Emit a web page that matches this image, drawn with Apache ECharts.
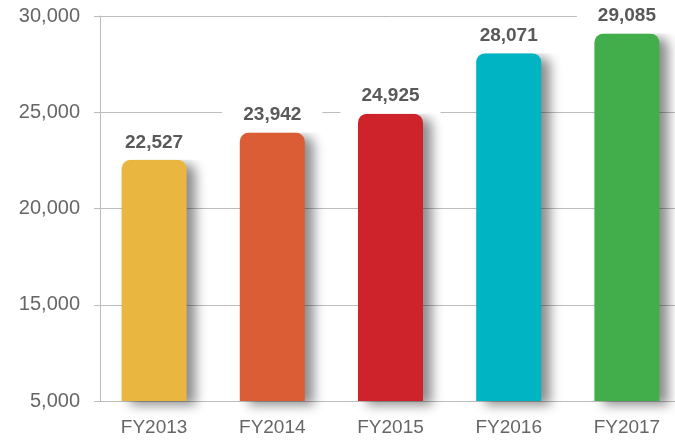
<!DOCTYPE html>
<html>
<head>
<meta charset="utf-8">
<script src="https://cdn.jsdelivr.net/npm/echarts@6/dist/echarts.min.js"></script>
<style>
html,body{margin:0;padding:0;background:#fff;overflow:hidden;width:675px;height:440px;}
#chart{width:686px;height:440px;}
</style>
</head>
<body>
<div id="chart"></div>
<script>
var categories = ["FY2013", "FY2014", "FY2015", "FY2016", "FY2017"];
var values = [22527, 23942, 24925, 28071, 29085];
var barColors = ["#E9B73F", "#DB5D36", "#CF232B", "#00B4C3", "#42AE4B"];
var yTickValues = [10000, 15000, 20000, 25000, 30000];
var yTickLabels = ["5,000", "15,000", "20,000", "25,000", "30,000"];

function fmt(v) {
  return v.toString().replace(/\B(?=(\d{3})+(?!\d))/g, ",");
}

var chart = echarts.init(document.getElementById('chart'));
chart.setOption({
  animation: false,
  backgroundColor: '#fff',
  grid: { left: 95, right: 0, top: 16, bottom: 39, containLabel: false },
  xAxis: {
    type: 'category',
    data: categories,
    axisLine: { lineStyle: { color: '#bdbdbd', width: 1 } },
    axisTick: { show: false },
    axisLabel: { color: '#666', fontFamily: 'Liberation Sans', fontSize: 19, margin: 17 }
  },
  yAxis: {
    type: 'value',
    min: 10000,
    max: 30000,
    interval: 5000,
    offset: -5,
    axisLine: { show: true, lineStyle: { color: '#bdbdbd', width: 1 } },
    axisTick: { show: true, length: 6, lineStyle: { color: '#bdbdbd' } },
    splitLine: { show: true, lineStyle: { color: '#bdbdbd', width: 1 } },
    axisLabel: {
      color: '#666', fontFamily: 'Liberation Sans', fontSize: 20, margin: 20,
      formatter: function (v) {
        var i = yTickValues.indexOf(v);
        return i >= 0 ? yTickLabels[i] : '';
      }
    }
  },
  series: [{
    type: 'bar',
    barWidth: 65,
    data: values.map(function (v, i) {
      return { value: v, itemStyle: { color: barColors[i] } };
    }),
    itemStyle: {
      borderRadius: [9, 9, 0, 0],
      shadowColor: 'rgba(0,0,0,0.45)',
      shadowBlur: 12,
      shadowOffsetX: 9,
      shadowOffsetY: 4
    },
    label: {
      show: true,
      position: 'top',
      distance: 0,
      formatter: function (p) { return fmt(p.value); },
      color: '#595959',
      fontFamily: 'Liberation Sans',
      fontWeight: 'bold',
      fontSize: 19,
      backgroundColor: '#fff',
      padding: [8, 21, 8, 21]
    }
  }]
});
</script>
</body>
</html>
